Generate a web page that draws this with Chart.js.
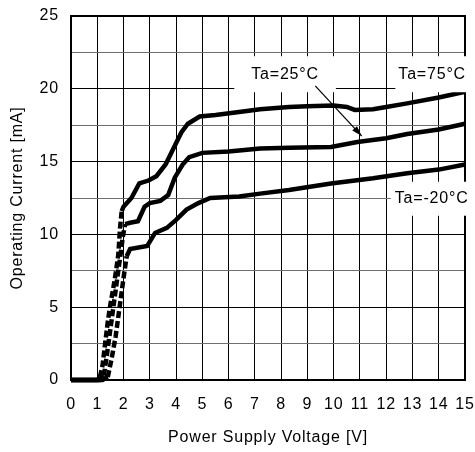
<!DOCTYPE html>
<html>
<head>
<meta charset="utf-8">
<script src="https://cdn.jsdelivr.net/npm/chart.js@4.4.0/dist/chart.umd.min.js"></script>
<style>
  html, body { margin: 0; padding: 0; background: #fff; }
  #wrap { width: 475px; height: 452px; position: relative; }
</style>
</head>
<body>
<div id="wrap"><canvas id="chart"></canvas></div>
<script>
// values
const voltHot = [0, 1.0, 1.1, 1.2, 1.3, 1.4, 1.5, 1.6, 1.7, 1.8, 1.87, 1.93, 2.0, 2.3, 2.6, 2.95, 3.25, 3.6, 3.9, 4.2, 4.45, 4.9, 5.5, 6.4, 7.2, 8.3, 9.0, 10.0, 10.5, 10.8, 11.5, 12.0, 12.8, 14.0, 15];
const currHot = [0, 0, 0.2, 1.0, 2.5, 4.0, 5.2, 6.2, 7.3, 8.6, 10.5, 11.6, 11.9, 12.5, 13.5, 13.7, 14.0, 14.8, 15.9, 17.0, 17.6, 18.1, 18.2, 18.4, 18.6, 18.75, 18.8, 18.85, 18.75, 18.55, 18.6, 18.75, 19.0, 19.4, 19.8];

const voltRoom = [0, 1.1, 1.25, 1.35, 1.5, 1.65, 1.8, 1.9, 1.97, 2.06, 2.25, 2.55, 2.8, 3.0, 3.4, 3.7, 3.95, 4.25, 4.5, 5.0, 6.0, 7.2, 8.3, 9.9, 10.9, 12.0, 12.8, 14.0, 15];
const currRoom = [0, 0, 0.3, 1.5, 3.5, 5.5, 7.5, 8.8, 9.8, 10.7, 10.8, 10.9, 11.9, 12.15, 12.3, 12.7, 13.9, 14.8, 15.3, 15.6, 15.7, 15.9, 15.95, 16.0, 16.35, 16.6, 16.9, 17.2, 17.6];

const voltCold = [0, 1.2, 1.4, 1.55, 1.7, 1.85, 2.0, 2.12, 2.25, 2.9, 3.2, 3.65, 4.0, 4.4, 4.85, 5.3, 6.4, 7.2, 8.3, 9.9, 11.5, 12.8, 14.0, 15];
const currCold = [0, 0, 0.2, 1.5, 3.0, 5.0, 7.0, 8.5, 9.0, 9.2, 10.1, 10.45, 11.0, 11.7, 12.15, 12.5, 12.6, 12.8, 13.05, 13.5, 13.85, 14.2, 14.45, 14.8];

const labelTexts = ['Ta=75°C', 'Ta=25°C', 'Ta=-20°C'];
const labelVolt = [13.75, 8.15, 13.73];
const labelCurr = [21.0, 21.0, 12.45];

const toPoints = (xs, ys) => xs.map((x, i) => ({ x: x, y: ys[i] }));

const FONT = '"Liberation Sans", Arial, sans-serif';
const SPACING = '0.8px';

// the reference text is a bit letter-spaced
const spacing = {
    id: 'spacing',
    beforeUpdate(chart) { chart.ctx.letterSpacing = SPACING; },
    beforeDraw(chart) { chart.ctx.letterSpacing = SPACING; }
};

// frame, text labels with white boxes, arrow
const notes = {
    id: 'notes',
    afterDatasetsDraw(chart) {
        const c = chart.ctx;
        const xs = chart.scales.x, ys = chart.scales.y;
        const area = chart.chartArea;
        c.save();
        c.strokeStyle = '#000';
        c.lineWidth = 2;
        c.strokeRect(area.left, area.top, area.right - area.left, area.bottom - area.top);

        c.font = '16px ' + FONT;
        c.letterSpacing = SPACING;
        c.textBaseline = 'middle';
        c.textAlign = 'center';
        const boxPad = [[3, 18], [17, 18], [4, 17]];
        labelTexts.forEach((txt, i) => {
            const px = xs.getPixelForValue(labelVolt[i]), py = ys.getPixelForValue(labelCurr[i]);
            const w = c.measureText(txt).width;
            c.fillStyle = '#fff';
            c.fillRect(px - w / 2 - boxPad[i][0], py - boxPad[i][1], w + 2 * boxPad[i][0], 2 * boxPad[i][1]);
            c.fillStyle = '#000';
            c.fillText(txt, px, py);
        });

        const x1 = xs.getPixelForValue(9.3), y1 = ys.getPixelForValue(20.2);
        const x2 = xs.getPixelForValue(11.07), y2 = ys.getPixelForValue(16.75);
        c.strokeStyle = '#000';
        c.lineWidth = 1.2;
        c.beginPath();
        c.moveTo(x1, y1);
        c.lineTo(x2, y2);
        c.stroke();
        const ang = Math.atan2(y2 - y1, x2 - x1);
        c.fillStyle = '#000';
        c.beginPath();
        c.moveTo(x2, y2);
        c.lineTo(x2 - 11 * Math.cos(ang - 0.3), y2 - 11 * Math.sin(ang - 0.3));
        c.lineTo(x2 - 11 * Math.cos(ang + 0.3), y2 - 11 * Math.sin(ang + 0.3));
        c.closePath();
        c.fill();
        c.restore();
    }
};

// near-vertical rise looks broken up in the reference
const steepDash = seg => {
    const dx = seg.p1.parsed.x - seg.p0.parsed.x;
    const dy = seg.p1.parsed.y - seg.p0.parsed.y;
    return (dx > 0 && dy / dx > 8) ? [7, 3] : undefined;
};

const lineStyle = {
    borderColor: '#000',
    borderWidth: 4.5,
    pointRadius: 0,
    tension: 0,
    fill: false,
    clip: 5,
    segment: { borderDash: steepDash }
};

const ctx = document.getElementById('chart').getContext('2d');
new Chart(ctx, {
    type: 'line',
    data: {
        datasets: [
            Object.assign({ label: labelTexts[0], data: toPoints(voltHot, currHot) }, lineStyle),
            Object.assign({ label: labelTexts[1], data: toPoints(voltRoom, currRoom) }, lineStyle),
            Object.assign({ label: labelTexts[2], data: toPoints(voltCold, currCold) }, lineStyle)
        ]
    },
    options: {
        responsive: true,
        maintainAspectRatio: false,
        animation: false,
        layout: { padding: { left: 0, right: 10, top: 16, bottom: 0 } },
        plugins: {
            legend: { display: false },
            tooltip: { enabled: false }
        },
        scales: {
            x: {
                type: 'linear',
                min: 0,
                max: 15,
                ticks: {
                    stepSize: 1,
                    color: '#000',
                    font: { family: FONT, size: 16 },
                    padding: 15,
                    maxRotation: 0
                },
                grid: { color: '#000', lineWidth: 1, drawTicks: false },
                border: { color: '#000', width: 2 },
                title: {
                    display: true,
                    text: 'Power Supply Voltage [V]',
                    color: '#000',
                    font: { family: FONT, size: 16 },
                    padding: { top: 0, bottom: 5 }
                },
                afterFit(scale) {
                    scale.height = 72;
                    scale.paddingLeft = 0;
                    scale.paddingRight = 0;
                }
            },
            y: {
                min: 0,
                max: 25,
                ticks: {
                    stepSize: 2.5,
                    color: '#000',
                    font: { family: FONT, size: 16 },
                    padding: 12,
                    callback: function (value) {
                        if (value % 5 === 0) {
                            return value;
                        }
                        return '';
                    }
                },
                grid: {
                    color: c => (c.tick && c.tick.value % 5 === 0) ? '#000' : '#6e6e6e',
                    lineWidth: 1,
                    drawTicks: false
                },
                border: { color: '#000', width: 2 },
                title: {
                    display: true,
                    text: 'Operating Current [mA]',
                    color: '#000',
                    font: { family: FONT, size: 16 },
                    padding: { top: 8, bottom: 0 }
                },
                afterFit(scale) {
                    scale.width = 71;
                    scale.paddingTop = 0;
                    scale.paddingBottom = 0;
                }
            }
        }
    },
    plugins: [spacing, notes]
});
</script>
</body>
</html>
